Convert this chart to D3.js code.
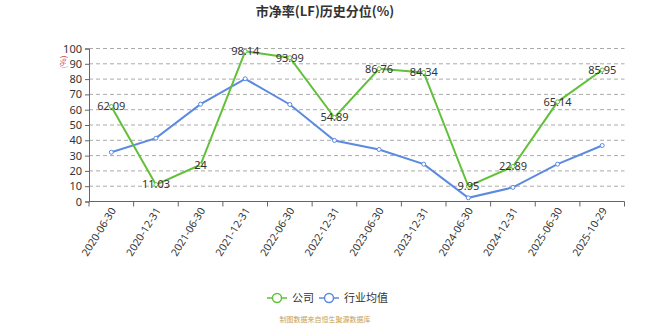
<!DOCTYPE html>
<html>
<head>
<meta charset="utf-8">
<style>
body { margin: 0; background: #fff; }
svg { font-family: "Noto Sans CJK SC", "Noto Sans", sans-serif; }
</style>
</head>
<body>
<svg width="650" height="325"></svg>
<script src="https://cdn.jsdelivr.net/npm/d3@7/dist/d3.min.js"></script>
<script>
// dates on the x axis
var dates = ["2020-06-30", "2020-12-31", "2021-06-30", "2021-12-31", "2022-06-30", "2022-12-31",
             "2023-06-30", "2023-12-31", "2024-06-30", "2024-12-31", "2025-06-30", "2025-10-29"];
// company percentile
var company = [62.09, 11.03, 24, 98.14, 93.99, 54.89, 86.76, 84.34, 9.95, 22.89, 65.14, 85.95];
// industry average
var industry = [32.2, 41.4, 63.6, 80.2, 63.4, 39.9, 34.0, 24.4, 2.4, 9.2, 24.4, 36.6];
var yTicks = [0, 10, 20, 30, 40, 50, 60, 70, 80, 90, 100];

var svg = d3.select("svg");
var plotLeft = 89, plotRight = 624.5, plotTop = 48.5, plotBottom = 201.5;

var x = d3.scaleBand().domain(dates).range([plotLeft, plotRight]);
var y = d3.scaleLinear().domain([0, 100]).range([plotBottom, plotTop]);

// title
svg.append("text")
    .attr("x", 325).attr("y", 16)
    .attr("text-anchor", "middle")
    .attr("font-size", 13).attr("font-weight", "bold").attr("fill", "#333")
    .text("市净率(LF)历史分位(%)");

// grid lines
svg.append("g").selectAll("line")
  .data(yTicks.filter(function(d) { return d > 0; }))
  .enter().append("line")
    .attr("x1", plotLeft).attr("x2", plotRight)
    .attr("y1", function(d) { return y(d); })
    .attr("y2", function(d) { return y(d); })
    .attr("stroke", "#aaa").attr("stroke-dasharray", "4,3");

// y axis
var yAxis = svg.append("g")
    .attr("transform", "translate(" + plotLeft + ",0)")
    .call(d3.axisLeft(y).tickValues(yTicks).tickSize(4).tickPadding(3));
yAxis.select(".domain").attr("stroke", "#666");
yAxis.selectAll(".tick line").attr("stroke", "#666");
yAxis.selectAll("text").attr("font-size", 11).attr("fill", "#333").attr("font-family", "'Noto Sans', sans-serif");

// unit label
svg.append("text")
    .attr("transform", "translate(66,62) rotate(-90)")
    .attr("text-anchor", "middle")
    .attr("font-size", 8).attr("fill", "#d04040")
    .text("(%)");

// x axis, ticks between categories
var xAxis = svg.append("g")
    .attr("transform", "translate(0," + plotBottom + ")");
xAxis.append("line")
    .attr("x1", plotLeft).attr("x2", plotRight)
    .attr("stroke", "#666");
xAxis.selectAll("line.tk")
  .data(dates.concat(["end"]))
  .enter().append("line")
    .attr("class", "tk")
    .attr("x1", function(d, i) { return plotLeft + i * x.step(); })
    .attr("x2", function(d, i) { return plotLeft + i * x.step(); })
    .attr("y1", 0).attr("y2", 5)
    .attr("stroke", "#666");
xAxis.selectAll("text")
  .data(dates)
  .enter().append("text")
    .attr("transform", function(d) {
        return "translate(" + (x(d) + x.bandwidth() / 2 + 2) + ",7) rotate(-58)";
    })
    .attr("text-anchor", "end")
    .attr("dy", "0.35em")
    .attr("font-size", 10.5).attr("fill", "#333")
    .attr("font-family", "'Noto Sans', sans-serif")
    .text(function(d) { return d; });

function cx(d, i) { return x(dates[i]) + x.bandwidth() / 2; }

var line = d3.line()
    .x(function(d, i) { return cx(d, i); })
    .y(function(d) { return y(d); });

function drawSeries(vals, color) {
    svg.append("path")
        .datum(vals)
        .attr("d", line)
        .attr("fill", "none")
        .attr("stroke", color)
        .attr("stroke-width", 2);
    svg.append("g").selectAll("circle")
      .data(vals)
      .enter().append("circle")
        .attr("cx", cx)
        .attr("cy", function(d) { return y(d); })
        .attr("r", 2)
        .attr("fill", "#fff")
        .attr("stroke", color)
        .attr("stroke-width", 1);
}

drawSeries(industry, "#5b8ae0");
drawSeries(company, "#62c03a");

// value labels on the company line
svg.append("g").selectAll("text")
  .data(company)
  .enter().append("text")
    .attr("x", cx)
    .attr("y", function(d) { return y(d); })
    .attr("dy", "0.35em")
    .attr("text-anchor", "middle")
    .attr("font-size", 11).attr("fill", "#333")
    .attr("font-family", "'Noto Sans', sans-serif")
    .text(function(d) { return d; });

// legend
var legend = [{ name: "公司", color: "#62c03a", x: 267 }, { name: "行业均值", color: "#5b8ae0", x: 319 }];
var lg = svg.append("g").selectAll("g")
  .data(legend)
  .enter().append("g")
    .attr("transform", function(d) { return "translate(" + d.x + ",298)"; });
lg.append("line")
    .attr("x1", 0).attr("x2", 20)
    .attr("stroke", function(d) { return d.color; })
    .attr("stroke-width", 1.5);
lg.append("circle")
    .attr("cx", 10).attr("r", 4.5)
    .attr("fill", "#fff")
    .attr("stroke", function(d) { return d.color; })
    .attr("stroke-width", 1.5);
lg.append("text")
    .attr("x", 25).attr("dy", "0.35em")
    .attr("font-size", 11).attr("fill", "#333")
    .text(function(d) { return d.name; });

// source note
svg.append("text")
    .attr("x", 325).attr("y", 322)
    .attr("text-anchor", "middle")
    .attr("font-size", 7).attr("fill", "#c8a050")
    .text("制图数据来自恒生聚源数据库");
</script>
</body>
</html>
